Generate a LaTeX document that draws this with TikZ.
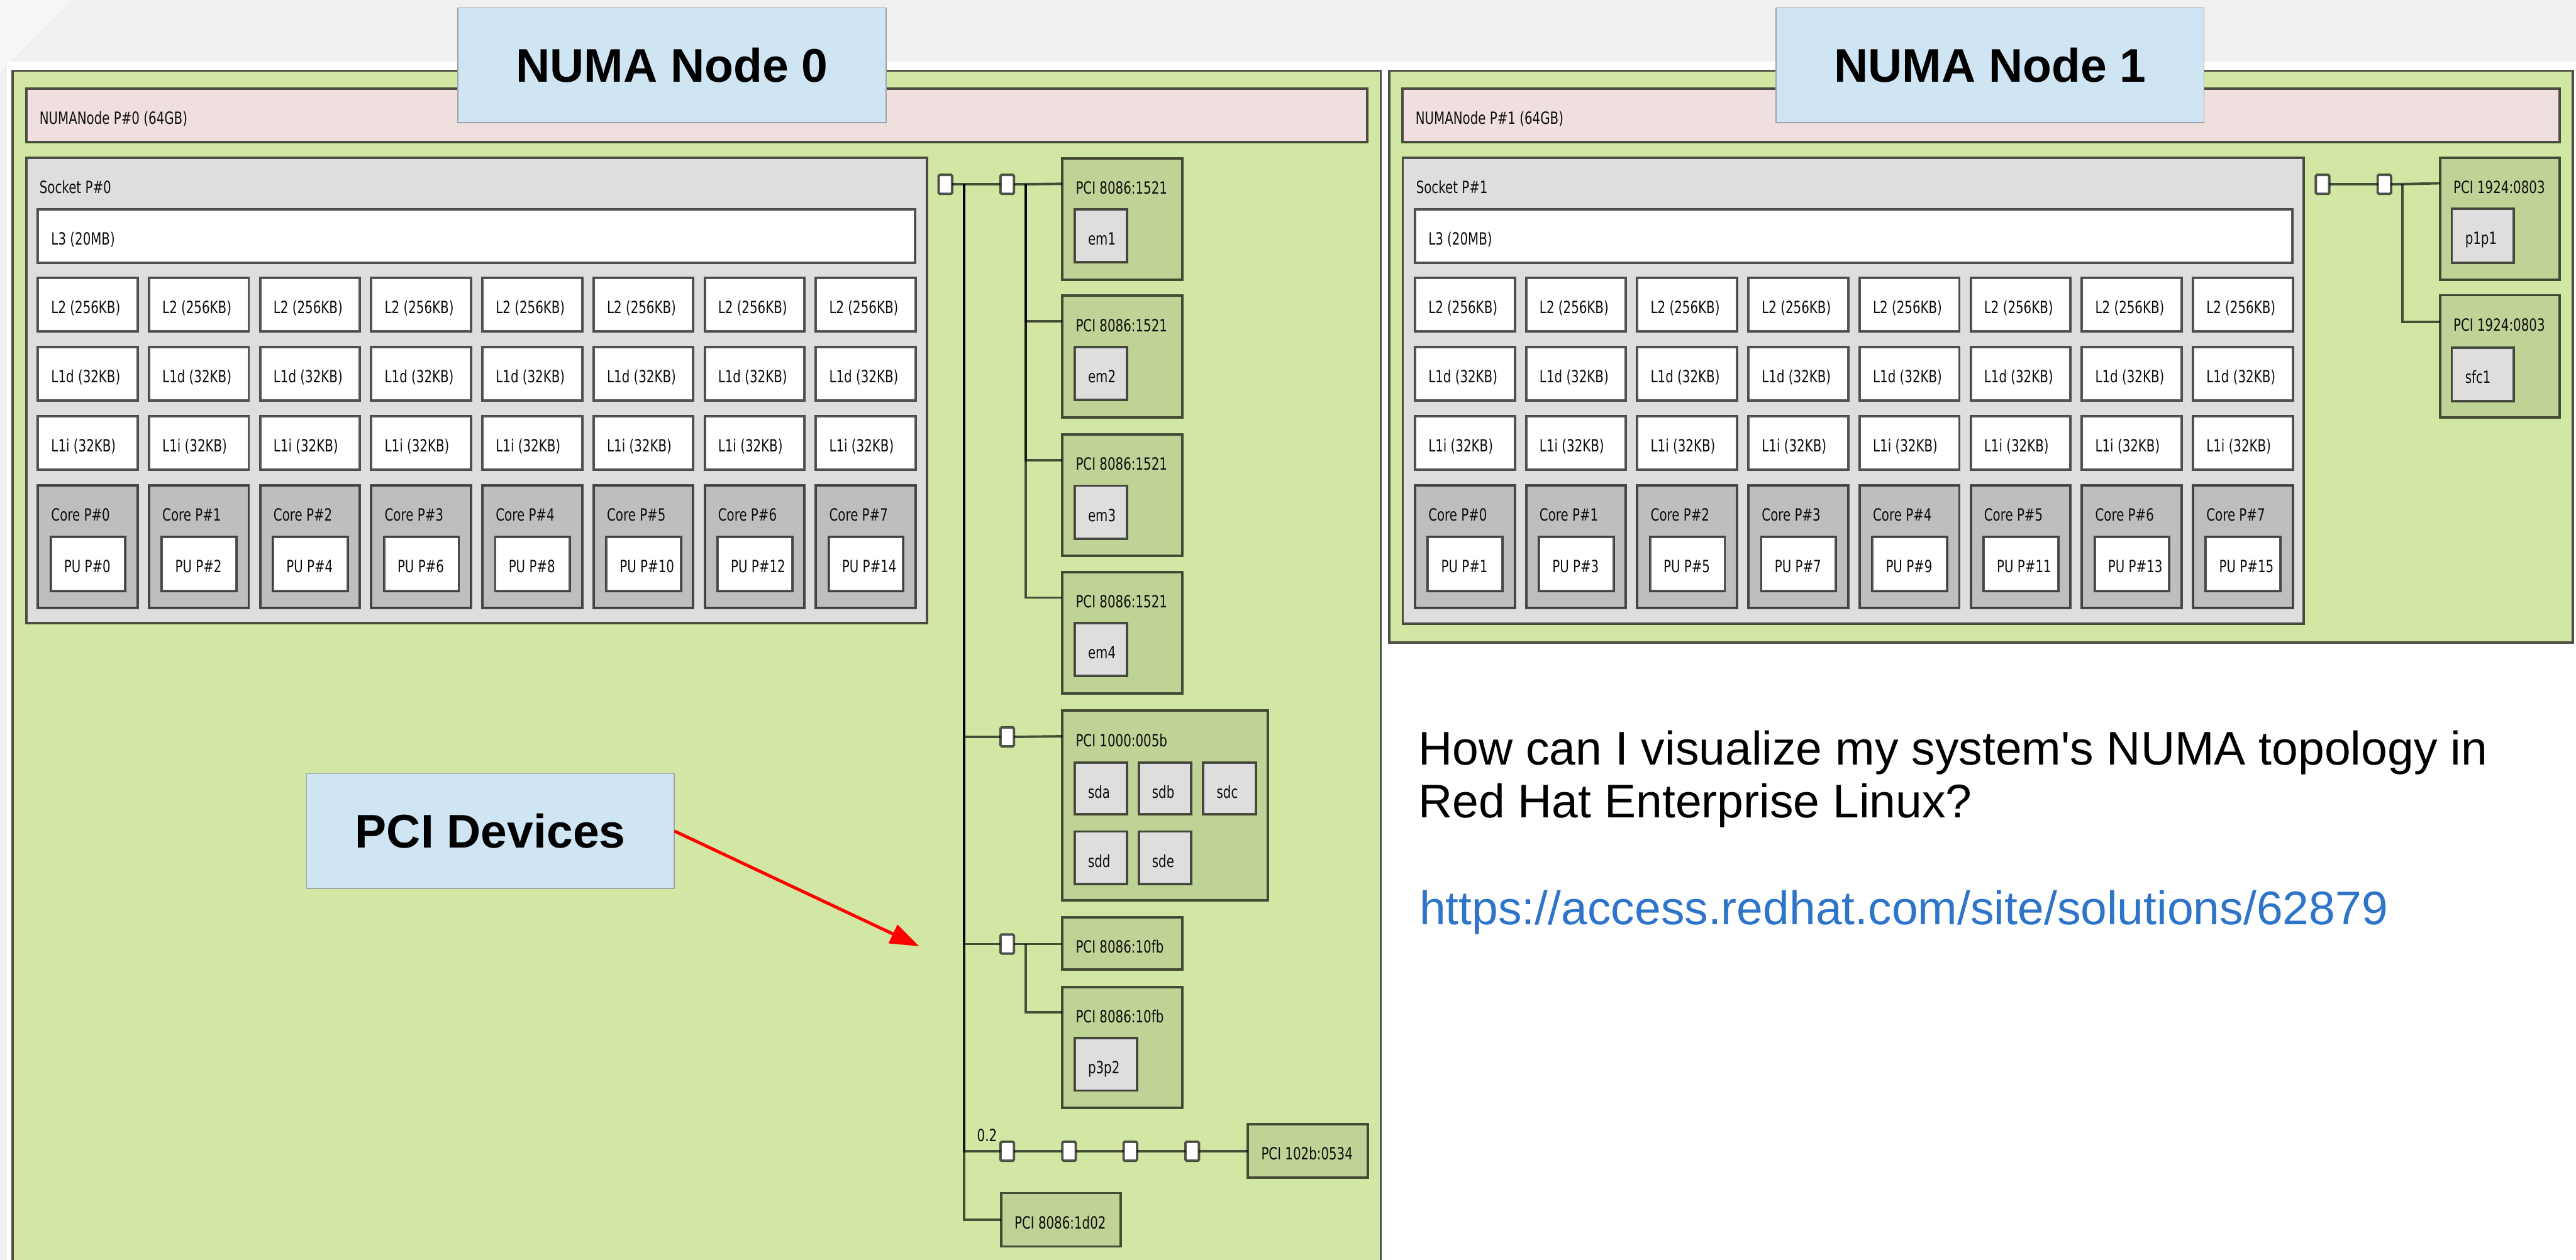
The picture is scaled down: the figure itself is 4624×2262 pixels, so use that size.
\documentclass[tikz,border=0pt]{standalone}
\usepackage{fontspec}
\usetikzlibrary{calc,arrows.meta}
\newfontfamily\hwfont[FakeStretch=0.74]{DejaVu Sans}
\newfontfamily\slidefont[Ligatures=TeXOff]{Liberation Sans}

\definecolor{slidegrey}{HTML}{F0F0F0}
\definecolor{slidelight}{HTML}{F7F7F7}
\definecolor{numagreen}{HTML}{D2E7A4}
\definecolor{memfill}{HTML}{EFDFDE}
\definecolor{sockfill}{HTML}{DEDEDE}
\definecolor{corefill}{HTML}{BEBEBE}
\definecolor{pcifill}{HTML}{C0D396}
\definecolor{osdevfill}{HTML}{DEDEDE}
\definecolor{calloutfill}{HTML}{CFE5F3}
\definecolor{calloutedge}{HTML}{9EA3A8}
\definecolor{urlblue}{HTML}{2E74C9}

\tikzset{
  hw/.style={draw=black, draw opacity=0.66, line width=1.25pt, inner sep=0pt,
    outer sep=0pt, anchor=north west},
  hwlabel/.style={font=\hwfont\fontsize{8.6pt}{10pt}\selectfont, text=black!95,
    inner sep=0pt, outer sep=0pt, anchor=base west},
  link/.style={draw=black, draw opacity=0.66, line width=1.25pt},
  bridge/.style={hw, fill=white, minimum width=0.24cm, minimum height=0.34cm,
    rounded corners=0.6pt},
  callout/.style={fill=calloutfill, draw=calloutedge, line width=0.45pt,
    inner sep=0pt, outer sep=0pt, anchor=north west,
    font=\slidefont\bfseries\fontsize{24.1pt}{28pt}\selectfont},
  slidetext/.style={font=\slidefont\fontsize{24.1pt}{28pt}\selectfont,
    inner sep=0pt, outer sep=0pt, anchor=base west},
  pointer/.style={draw=red, line width=1.6pt,
    -{Triangle[length=0.52cm,width=0.36cm]}},
}

% one lstopo box: name, x, y, width, height (pixels, y downwards), fill, label
\newcommand\topobox[7]{%
  \node[hw,fill=#6,minimum width=#4*0.01cm,minimum height=#5*0.01cm] (#1) at (#2,#3) {};
  \node[hwlabel] (#1-t) at ($(#1.north west)+(24,64)$) {#7};}

% caches, cores and PUs of one socket: prefix, x of first column, first PU index
\newcommand\socketcontents[3]{%
  \foreach \i in {0,...,7}{%
    \pgfmathsetmacro\cx{#2+199.5*\i}%
    \pgfmathtruncatemacro\pu{#3+2*\i}%
    \topobox{#1l2\i}{\cx}{499}{179}{96}{white}{L2 (256KB)}
    \topobox{#1ld\i}{\cx}{623}{179}{96}{white}{L1d (32KB)}
    \topobox{#1li\i}{\cx}{747}{179}{96}{white}{L1i (32KB)}
    \topobox{#1core\i}{\cx}{871}{179}{221}{corefill}{Core P\#\i}
    \topobox{#1pu\i}{\cx+23}{964}{134}{97}{white}{PU P\#\pu}
  }}

\begin{document}
\begin{tikzpicture}[x=0.01cm,y=-0.01cm]
\useasboundingbox (0,0) rectangle (4624,2262);
\clip (0,0) rectangle (4624,2262);

% slide background
\fill[slidegrey] (0,0) rectangle (4624,2262);
\fill[slidelight] (0,0) -- (128,0) -- (0,130) -- cycle;
\fill[white] (12,111) rectangle (4624,2262);

% ---------------- NUMA node 0 ----------------
\node[hw,fill=numagreen,minimum width=24.54cm,minimum height=23cm] (node0) at (23,127) {};
\topobox{mem0}{47}{159}{2407}{96}{memfill}{NUMANode P\#0 (64GB)}
\topobox{sock0}{47}{283}{1617}{836}{sockfill}{Socket P\#0}
\topobox{l3a}{68}{376}{1575}{96}{white}{L3 (20MB)}
\socketcontents{a}{68}{0}

% PCI devices of node 0
\topobox{pci1}{1907}{284}{215}{218}{pcifill}{PCI 8086:1521}
\topobox{em1}{1929}{376}{94}{95}{osdevfill}{em1}
\topobox{pci2}{1907}{531}{215}{219}{pcifill}{PCI 8086:1521}
\topobox{em2}{1929}{623}{94}{95}{osdevfill}{em2}
\topobox{pci3}{1907}{780}{215}{218}{pcifill}{PCI 8086:1521}
\topobox{em3}{1929}{872}{94}{95}{osdevfill}{em3}
\topobox{pci4}{1907}{1027}{215}{218}{pcifill}{PCI 8086:1521}
\topobox{em4}{1929}{1119}{94}{95}{osdevfill}{em4}
\topobox{pci5}{1907}{1276}{369}{341}{pcifill}{PCI 1000:005b}
\topobox{sda}{1929}{1369}{94}{93}{osdevfill}{sda}
\topobox{sdb}{2044}{1369}{94}{93}{osdevfill}{sdb}
\topobox{sdc}{2160}{1369}{94}{93}{osdevfill}{sdc}
\topobox{sdd}{1929}{1493}{94}{94}{osdevfill}{sdd}
\topobox{sde}{2044}{1493}{94}{94}{osdevfill}{sde}
\topobox{pci6}{1907}{1647}{215}{94}{pcifill}{PCI 8086:10fb}
\topobox{pci7}{1907}{1772}{215}{217}{pcifill}{PCI 8086:10fb}
\topobox{p3p2}{1929}{1864}{112}{94}{osdevfill}{p3p2}
\topobox{pci9}{2240}{2018}{215}{96}{pcifill}{PCI 102b:0534}
\topobox{pci8}{1797}{2142}{215}{96}{pcifill}{PCI 8086:1d02}

% host bridge, bridges and their links
\node[bridge] (hb0) at (1685,314) {};
\node[bridge] (br0) at (1796,314) {};
\node[bridge] (br1) at (1796,1306) {};
\node[bridge] (br2) at (1796,1678) {};
\node[bridge] (br3) at (1796,2050) {};
\node[bridge] (br4) at (1907,2050) {};
\node[bridge] (br5) at (2017,2050) {};
\node[bridge] (br6) at (2128,2050) {};
\node[hwlabel] (bus02) at (1754,2049) {0.2};

\draw[link] (hb0) -- (br0);
\draw[link] (br0.east) -- ($(pci1.north west)+(0,46)$);
\foreach \k in {2,3,4}
  \draw[link] ($(br0.east)+(21,0)$) |- ($(pci\k.north west)+(0,46)$);
\foreach \b in {br1,br2,br3}
  \draw[link] ($(hb0.east)+(22,0)$) |- (\b.west);
\draw[link] ($(hb0.east)+(22,0)$) |- (pci8.west);
\draw[link] (br1.east) -- ($(pci5.north west)+(0,46)$);
\draw[link] (br2.east) -- (br2.east -| pci6.west);
\draw[link] ($(br2.east)+(21,0)$) |- ($(pci7.north west)+(0,46)$);
\draw[link] (br3) -- (br4) -- (br5) -- (br6);
\draw[link] (br6.east) -- (br6.east -| pci9.west);

% ---------------- NUMA node 1 ----------------
\node[hw,fill=numagreen,minimum width=21.23cm,minimum height=10.26cm] (node1) at (2494,127) {};
\topobox{mem1}{2517}{159}{2078}{96}{memfill}{NUMANode P\#1 (64GB)}
\topobox{sock1}{2518}{283}{1617}{837}{sockfill}{Socket P\#1}
\topobox{l3b}{2540}{376}{1575}{96}{white}{L3 (20MB)}
\socketcontents{b}{2540}{1}

\topobox{pciA}{4380}{283}{215}{219}{pcifill}{PCI 1924:0803}
\topobox{p1p1}{4401}{375}{111}{97}{osdevfill}{p1p1}
\topobox{pciB}{4380}{530}{215}{220}{pcifill}{PCI 1924:0803}
\topobox{sfc1}{4401}{624}{111}{96}{osdevfill}{sfc1}

\node[bridge] (hb1) at (4157,314) {};
\node[bridge] (brA) at (4268,314) {};
\draw[link] (hb1) -- (brA);
\draw[link] (brA.east) -- ($(pciA.north west)+(0,46)$);
\draw[link] ($(brA.east)+(20,0)$) |- ($(pciB.north west)+(0,48)$);

% ---------------- callouts and notes ----------------
\node[callout,minimum width=7.68cm,minimum height=2.06cm] (title0) at (822,14) {NUMA Node 0};
\node[callout,minimum width=7.68cm,minimum height=2.06cm] (title1) at (3188,14) {NUMA Node 1};
\node[callout,minimum width=6.6cm,minimum height=2.06cm] (pcidev) at (550,1389) {PCI Devices};
\coordinate (pcitip) at (1650,1699);
\draw[pointer] (pcidev.east) -- (pcitip);

\node[slidetext] (q1) at (2546,1373) {How can I visualize my system's NUMA topology in};
\node[slidetext] (q2) at (2546,1468) {Red Hat Enterprise Linux?};
\node[slidetext,text=urlblue] (url) at (2548,1660) {https://access.redhat.com/site/solutions/62879};
\end{tikzpicture}
\end{document}
